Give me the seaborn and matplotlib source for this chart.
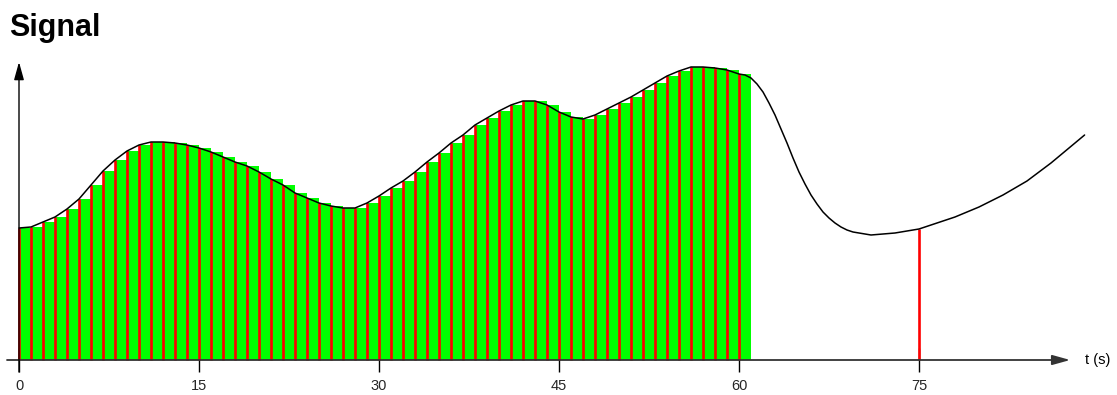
import numpy as np
import pandas as pd
import matplotlib
matplotlib.use("Agg")
import matplotlib.pyplot as plt
import seaborn as sns

curve_t = (list(range(0, 60))
           + [60, 60.5, 61, 61.5, 62, 62.5, 63, 63.5, 64, 64.5, 65, 65.5,
              66, 66.5, 67, 67.5, 68, 68.5, 69, 69.5, 70]
           + list(range(71, 89)) + [88.8])
curve_v = [
    132, 133, 138, 143, 151, 161, 175, 189, 200, 209,
    215, 218, 218, 217, 215, 212, 208, 203, 198, 194,
    188, 181, 175, 167, 162, 157, 154, 152, 152, 157,
    164, 172, 179, 188, 198, 207, 217, 225, 235, 242,
    249, 255, 259, 259, 255, 248, 243, 241, 245, 251,
    257, 263, 270, 277, 284, 289, 293, 293, 292, 290,
    286, 285, 282, 276, 268, 257, 245, 231, 217, 202,
    188, 176, 165, 156, 148, 142, 137, 133, 130, 128,
    127,
    125, 126, 127, 129, 131, 135, 139, 143, 148,
    153, 159, 165, 172, 179, 188, 197, 207, 217, 225,
]

# sample-and-hold bars cover the first 61 seconds, one extra sample at t = 75
held_t = list(range(0, 61))
extra_t = [75]
tick_pos = [0, 15, 30, 45, 60, 75]
tick_labels = ["0", "15", "30", "45", "60", "75"]

curve = pd.DataFrame({"t": curve_t, "v": curve_v})
lookup = dict(zip(curve_t, curve_v))
held_v = [lookup[t] for t in held_t]
sample_t = held_t + extra_t
sample_v = [lookup[t] for t in sample_t]

sns.set_theme(style="white")
plt.rcParams["font.family"] = ["Liberation Sans", "DejaVu Sans"]

fig = plt.figure(figsize=(11.17, 3.95), dpi=100)
ax = fig.add_axes([0, 0, 1, 1])
ax.set_xlim(-19 / 12, (1117 - 19) / 12)
ax.set_ylim(-35, 360)

# green held values
ax.bar(held_t, held_v, width=1.0, align="edge", color="#00ff00",
       edgecolor="none", linewidth=0, zorder=1)
# red sample impulses
ax.vlines(sample_t, 0, sample_v, color="#ff0000", linewidth=1.9, zorder=2)
# continuous signal
sns.lineplot(data=curve, x="t", y="v", ax=ax, color="black",
             linewidth=1.1, zorder=3, sort=False)

# axes drawn as arrows
ax.annotate("", xy=(87.6, 0), xytext=(-1.0, 0),
            arrowprops=dict(arrowstyle="-|>,head_length=0.9,head_width=0.25",
                            color="#333333", lw=1.3, shrinkA=0, shrinkB=0),
            zorder=4)
ax.annotate("", xy=(0, 298), xytext=(0, -12),
            arrowprops=dict(arrowstyle="-|>,head_length=0.9,head_width=0.25",
                            color="black", lw=1.0, shrinkA=0, shrinkB=0),
            zorder=4)
ax.text(88.8, 0, "t (s)", ha="left", va="center", fontsize=10.5, color="black")

for s in ax.spines.values():
    s.set_visible(False)
ax.spines["bottom"].set_position(("data", 0))
ax.set_xticks(tick_pos)
ax.set_xticklabels(tick_labels)
ax.set_yticks([])
ax.tick_params(axis="x", direction="inout", length=17, width=1.0,
               color="black", pad=5.5, labelsize=10.5, bottom=True)
ax.set_xlabel("")
ax.set_ylabel("")

fig.text(0.008, 0.968, "Signal", fontsize=22, fontweight="bold",
         ha="left", va="top", color="black")

fig.savefig("out.png", dpi=100)
